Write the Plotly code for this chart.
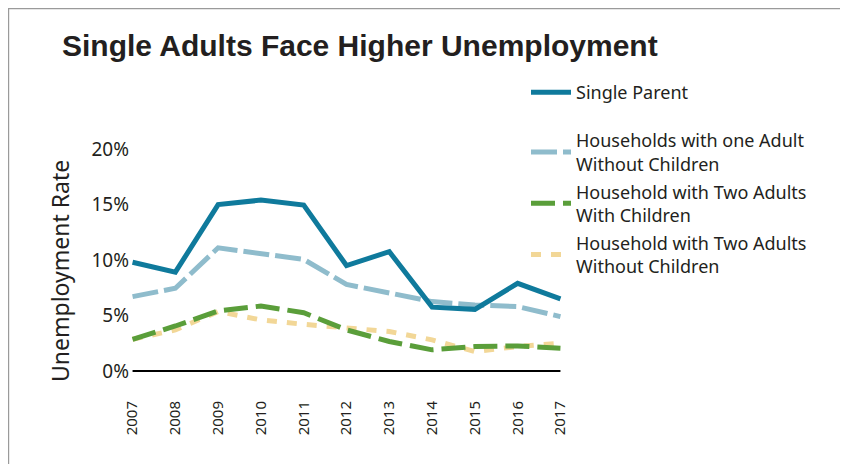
import plotly.graph_objects as go

years = [2007, 2008, 2009, 2010, 2011, 2012, 2013, 2014, 2015, 2016, 2017]
single_parent = [9.8, 8.9, 15.0, 15.4, 14.95, 9.5, 10.75, 5.75, 5.55, 7.9, 6.5]
one_adult_no_children = [6.7, 7.45, 11.1, 10.6, 10.05, 7.8, 7.0, 6.25, 5.95, 5.8, 4.9]
two_adults_with_children = [2.85, 4.05, 5.4, 5.85, 5.25, 3.7, 2.65, 1.9, 2.2, 2.25, 2.05]
two_adults_no_children = [2.85, 3.7, 5.35, 4.6, 4.2, 3.85, 3.55, 2.8, 1.75, 2.2, 2.5]

series_names = [
    "Single Parent",
    "Households with one Adult<br>Without Children",
    "Household with Two Adults<br>With Children",
    "Household with Two Adults<br>Without Children",
]
y_ticks = [0, 5, 10, 15, 20]
y_tick_labels = ["0%", "5%", "10%", "15%", "20%"]

W, H = 848, 464
OFF = 8  # page body margin
L, R, T, B = 116, 287, 130, 90
pw, ph = W - L - R, H - T - B


def px_x(p):  # screen px -> paper
    return (p - OFF - L) / pw


def px_y(p):
    return (H - B - (p - OFF)) / ph


FONT = "Noto Sans"
fig = go.Figure()
styles = [
    dict(color="#0f7a9c", width=5, dash="solid"),
    dict(color="#8fbccc", width=5, dash="26px,6px"),
    dict(color="#5a9e3a", width=5, dash="24px,8px"),
    dict(color="#f2d797", width=5, dash="10px,10px"),
]
data = [single_parent, one_adult_no_children, two_adults_with_children, two_adults_no_children]
order = [3, 2, 1, 0]
for i in order:
    fig.add_trace(go.Scatter(
        x=years, y=data[i], mode="lines", name=series_names[i],
        line=dict(shape="linear", **styles[i]),
        legend="legend" if i == 0 else "legend2",
        legendgroup="g%d" % i,
        legendrank=i,
        showlegend=True,
    ))

fig.add_shape(type="line", xref="x", yref="y", x0=years[0], x1=years[-1], y0=0, y1=0,
              line=dict(color="black", width=2))
# frame lines (top and left)
fig.add_shape(type="line", xref="paper", yref="paper", x0=px_x(8), x1=px_x(W + 20),
              y0=px_y(8.2), y1=px_y(8.2), line=dict(color="#9a9a9a", width=2))
fig.add_shape(type="line", xref="paper", yref="paper", x0=px_x(8.2), x1=px_x(8.2),
              y0=px_y(8), y1=px_y(H + 20), line=dict(color="#9a9a9a", width=2))

fig.add_annotation(text="Single Adults Face Higher Unemployment", xref="paper", yref="paper",
                   x=px_x(60), y=px_y(45), xanchor="left", yanchor="middle", showarrow=False,
                   font=dict(family="Liberation Sans, Arial, sans-serif", size=30,
                             color="#231f20", weight="bold"))
fig.add_annotation(text="Unemployment Rate", xref="paper", yref="paper",
                   x=px_x(60), y=px_y(271), xanchor="center", yanchor="middle", showarrow=False,
                   textangle=-90, font=dict(family=FONT, size=23, color="#231f20"))

fig.update_layout(
    width=W, height=H,
    margin=dict(l=L, r=R, t=T, b=B),
    paper_bgcolor="white", plot_bgcolor="white",
    showlegend=True,
    font=dict(family=FONT, size=18, color="#231f20"),
    legend=dict(x=px_x(526), y=px_y(74), xanchor="left", yanchor="top",
                font=dict(family=FONT, size=18, color="#231f20"),
                itemwidth=40, bgcolor="rgba(0,0,0,0)", traceorder="normal"),
    legend2=dict(x=px_x(526), y=px_y(122), xanchor="left", yanchor="top",
                 font=dict(family=FONT, size=18, color="#231f20"),
                 itemwidth=40, bgcolor="rgba(0,0,0,0)", traceorder="grouped",
                 tracegroupgap=1.5),
    xaxis=dict(range=[2006.8, 2017.2], tickmode="array", tickvals=years,
               ticktext=[str(y) for y in years], tickangle=-90, showgrid=False,
               zeroline=False, showline=False, ticks="", ticklabelstandoff=15,
               tickfont=dict(family=FONT, size=15, color="#231f20")),
    yaxis=dict(range=[-1, 21], tickmode="array", tickvals=y_ticks, ticktext=y_tick_labels,
               showgrid=False, zeroline=False, showline=False, ticks="",
               ticklabelstandoff=-6, tickfont=dict(family=FONT, size=19, color="#231f20")),
)

fig.write_html("out.html")
